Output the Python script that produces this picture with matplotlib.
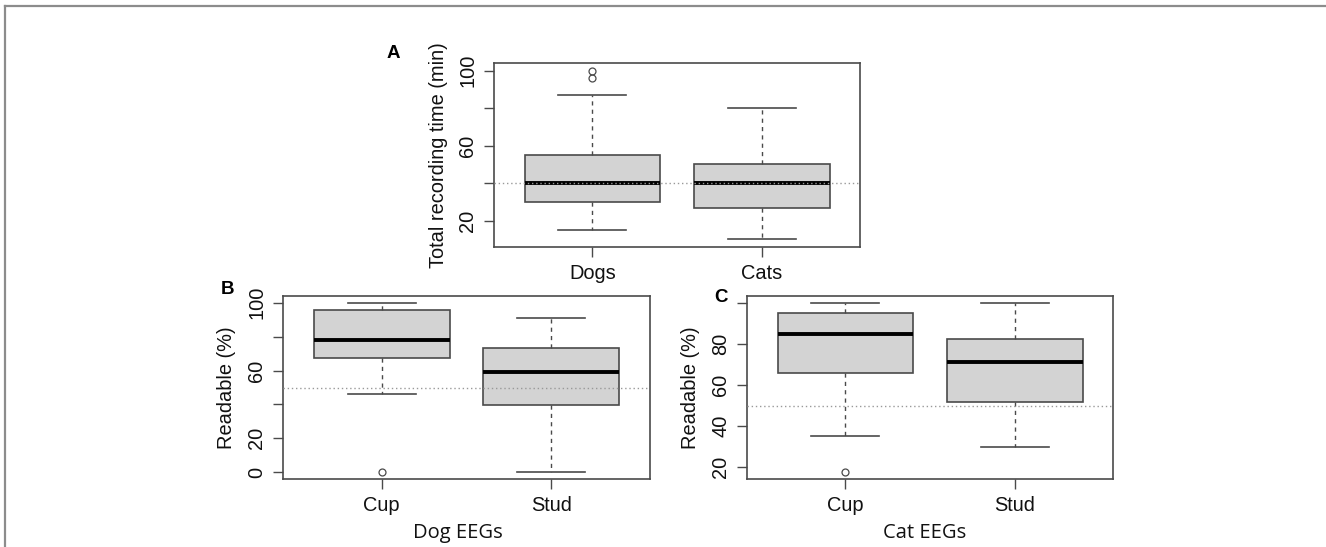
import matplotlib
matplotlib.use("Agg")
import matplotlib.pyplot as plt
from matplotlib.lines import Line2D

plt.rcParams['font.family'] = ['Liberation Sans', 'DejaVu Sans']

# ---- Data ----
# Panel A: total recording time (min)
a_groups = ["Dogs", "Cats"]
a_whislo = [15, 10]
a_q1 = [30, 27]
a_med = [40, 40]
a_q3 = [55, 50]
a_whishi = [87, 80]
a_fliers = [[96, 100], []]
a_ref = 40

# Panel B: Dog EEGs readable (%)
b_groups = ["Cup", "Stud"]
b_whislo = [46, 0]
b_q1 = [67.6, 39.4]
b_med = [78.3, 59.4]
b_q3 = [95.6, 73.5]
b_whishi = [100, 91]
b_fliers = [[0], []]
b_ref = 50

# Panel C: Cat EEGs readable (%)
c_groups = ["Cup", "Stud"]
c_whislo = [35, 30]
c_q1 = [66, 51.8]
c_med = [85, 71.5]
c_q3 = [95, 82.4]
c_whishi = [100, 100]
c_fliers = [[17.6], []]
c_ref = 50

a_yticks = [20, 40, 60, 80, 100]
a_ylabels = ["20", "", "60", "", "100"]
b_yticks = [0, 20, 40, 60, 80, 100]
b_ylabels = ["0", "20", "", "60", "", "100"]
c_yticks = [20, 40, 60, 80, 100]
c_ylabels = ["20", "40", "60", "80", ""]

W, H = 1326, 547
fig = plt.figure(figsize=(W / 100, H / 100), dpi=100)

def fx(px):
    return px / W

def fy(py):
    return 1 - py / H

EDGE = '#4a4a4a'
FS = 14.4

def panel(rect, groups, whislo, q1, med, q3, whishi, fliers, ref, ylim, yticks, ylabels):
    ax = fig.add_axes(rect)
    stats = []
    for i in range(len(groups)):
        stats.append(dict(whislo=whislo[i], q1=q1[i], med=med[i], q3=q3[i],
                          whishi=whishi[i], fliers=fliers[i], label=groups[i]))
    ax.bxp(stats, positions=[1, 2], widths=0.8, patch_artist=True,
           capwidths=0.4,
           boxprops=dict(facecolor='#d3d3d3', edgecolor=EDGE, linewidth=1.2),
           medianprops=dict(color='black', linewidth=2.8, solid_capstyle='butt'),
           whiskerprops=dict(color=EDGE, linewidth=1.0, linestyle=(0, (3, 3))),
           capprops=dict(color=EDGE, linewidth=1.2),
           flierprops=dict(marker='o', markerfacecolor='none', markeredgecolor=EDGE,
                           markersize=5, markeredgewidth=0.9))
    ax.axhline(ref, color='#999999', linewidth=1.0, linestyle=(0, (1, 2)), zorder=4)
    ax.set_xlim(0.42, 2.58)
    ax.set_ylim(*ylim)
    ax.set_yticks(yticks)
    ax.set_yticklabels(ylabels, rotation=90, va='center')
    ax.set_xticks([1, 2])
    ax.set_xticklabels(groups)
    for s in ax.spines.values():
        s.set_color(EDGE)
        s.set_linewidth(1.2)
    ax.tick_params(axis='both', direction='out', length=7, width=1.0, color=EDGE,
                   labelsize=FS, labelcolor='#111111')
    ax.tick_params(axis='y', pad=5)
    ax.tick_params(axis='x', pad=5)
    return ax

axA = panel([fx(494), fy(247), fx(860 - 494), (247 - 63) / H],
            a_groups, a_whislo, a_q1, a_med, a_q3, a_whishi, a_fliers, a_ref,
            (6, 104), a_yticks, a_ylabels)
axB = panel([fx(283), fy(479), fx(650 - 283), (479 - 296) / H],
            b_groups, b_whislo, b_q1, b_med, b_q3, b_whishi, b_fliers, b_ref,
            (-4, 104), b_yticks, b_ylabels)
axC = panel([fx(747), fy(479), fx(1113 - 747), (479 - 296) / H],
            c_groups, c_whislo, c_q1, c_med, c_q3, c_whishi, c_fliers, c_ref,
            (14.2, 103.5), c_yticks, c_ylabels)

# Axis titles
fig.text(fx(438), fy(155), "Total recording time (min)", rotation=90,
         ha='center', va='center', fontsize=FS, color='#111111')
fig.text(fx(227), fy(388), "Readable (%)", rotation=90,
         ha='center', va='center', fontsize=FS, color='#111111')
fig.text(fx(690), fy(388), "Readable (%)", rotation=90,
         ha='center', va='center', fontsize=FS, color='#111111')
fig.text(fx(458), fy(533), "Dog EEGs", ha='center', va='center', fontsize=14.5,
         family=['Open Sans', 'DejaVu Sans'], color='#111111')
fig.text(fx(925), fy(533), "Cat EEGs", ha='center', va='center', fontsize=14.5,
         family=['Open Sans', 'DejaVu Sans'], color='#111111')

# Panel letters
fig.text(fx(393), fy(53), "A", ha='center', va='center', fontsize=13.5, fontweight='bold')
fig.text(fx(227), fy(290), "B", ha='center', va='center', fontsize=13.5, fontweight='bold')
fig.text(fx(721), fy(297), "C", ha='center', va='center', fontsize=13.5, fontweight='bold')

# Frame (top and left border)
fig.add_artist(Line2D([fx(4.5), 1], [fy(5.5), fy(5.5)], color='#8c8c8c', linewidth=1.6))
fig.add_artist(Line2D([fx(4.5), fx(4.5)], [fy(5.5), 0], color='#8c8c8c', linewidth=1.6))

fig.savefig("out.png", dpi=100)
